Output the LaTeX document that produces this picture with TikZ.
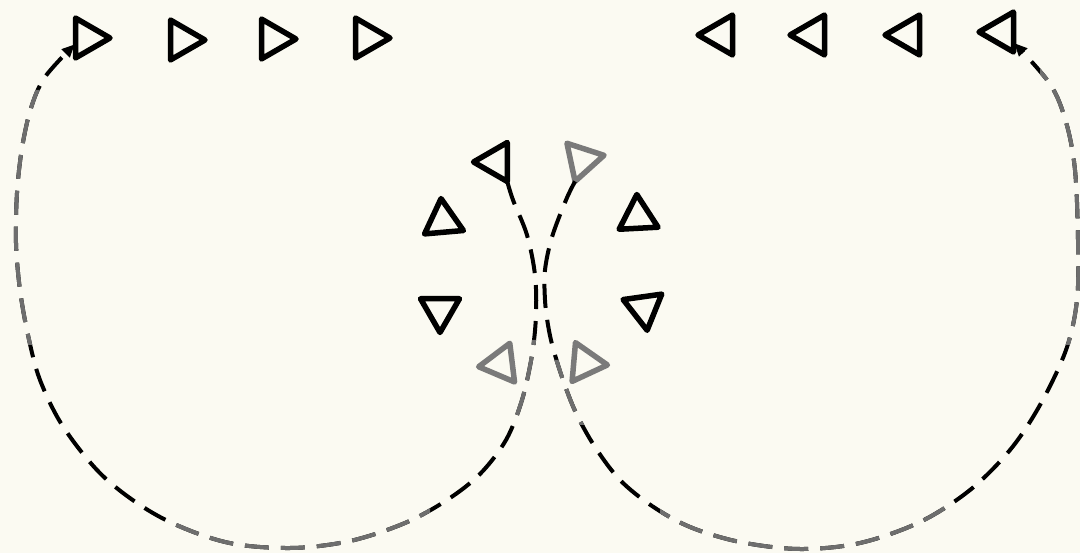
\documentclass[tikz,border=0pt]{standalone}
\usetikzlibrary{shapes.geometric,arrows.meta,calc}
\definecolor{paper}{RGB}{251,250,242}
\definecolor{inkgray}{RGB}{122,122,122}
\definecolor{dashgray}{RGB}{110,110,110}
\begin{document}
\begin{tikzpicture}[x=1pt,y=-1pt,
  tri/.style={regular polygon, regular polygon sides=3, draw=black, line width=5.5pt,
              inner sep=0pt, outer sep=0pt, minimum size=46pt, line join=round},
  ctri/.style={tri, minimum size=45pt},
  gtri/.style={ctri, draw=inkgray},
  trail/.style={line width=4pt, dash pattern=on 24pt off 12pt, draw=black},
  gtrail/.style={trail, draw=dashgray},
  tip/.style={-{Triangle[length=13pt,width=11pt]}, shorten >=1pt}]
\fill[paper] (0,0) rectangle (1080,553);
\useasboundingbox (0,0) rectangle (1080,553);
% top row, left: pointing right
\node[tri, rotate=-90] (t1) at (87,38) {};
\node[tri, rotate=-90] (t2) at (182,40) {};
\node[tri, rotate=-90] (t3) at (273,39) {};
\node[tri, rotate=-90] (t4) at (367,38) {};
% top row, right: pointing left
\node[tri, rotate=90] (t5) at (721,35) {};
\node[tri, rotate=90] (t6) at (813,35) {};
\node[tri, rotate=90] (t7) at (908,35) {};
\node[tri, rotate=90] (t8) at (1002,32) {};
% centre group
\node[ctri, rotate=90] (c1) at (496,162) {};
\node[gtri, rotate=-78] (c2) at (582,160) {};
\node[ctri, rotate=5] (c3) at (443,221) {};
\node[ctri, rotate=3] (c4) at (638,217) {};
\node[ctri, rotate=180] (c5) at (440,310) {};
\node[ctri, rotate=188] (c6) at (644,308) {};
\node[gtri, rotate=97] (c7) at (501,364) {};
\node[gtri, rotate=-95] (c8) at (585,363) {};
\coordinate (t1in) at ($(t1.corner 2)!0.64!(t1.corner 3)$);
\coordinate (t8in) at ($(t8.corner 3)!0.76!(t8.corner 2)$);
% left loop: c1 -> t1 ; right loop: c2 -> t8
\def\leftloop{plot[smooth, tension=0.55] coordinates {(c1.corner 2) (513,200) (527,235)
  (535,275) (536,315) (532,355) (522,400) (506,440) (480,474) (447,500) (405,523)
  (350,541) (290,548) (225,542) (160,517) (105,478) (64,428) (40,380) (28,335)
  (20,290) (16,243) (17,193) (22,148) (31,108) (45,77) (t1in)}}
\def\rightloop{plot[smooth, tension=0.55] coordinates {(c2.corner 3) (566,200)
  (552,237) (545,270) (545,300) (548,325) (553,348) (563,380) (576,413) (595,447)
  (620,480) (652,506) (690,527) (740,542) (800,549) (860,543) (920,522) (970,490)
  (1010,450) (1040,405) (1066,350) (1077,300) (1078,240) (1075,170) (1066,122)
  (1050,84) (t8in)}}
\draw[trail, tip] \leftloop;
\draw[trail, tip] \rightloop;
\begin{scope}
  \clip (170,495) rectangle (430,553) (0,90) rectangle (60,345)
        (505,340) rectangle (540,425);
  \draw[gtrail, tip] \leftloop;
\end{scope}
\begin{scope}
  \clip (552,360) rectangle (590,425) (660,505) rectangle (990,553)
        (1040,0) rectangle (1080,345);
  \draw[gtrail, tip] \rightloop;
\end{scope}
\end{tikzpicture}
\end{document}
